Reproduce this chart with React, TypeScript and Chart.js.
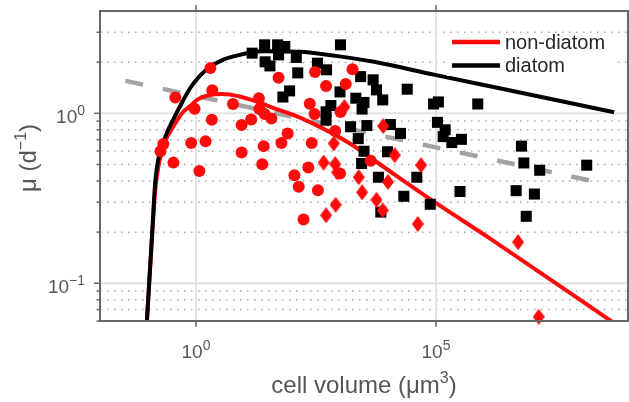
import React, { useEffect, useRef } from 'react';
import { Chart, registerables } from 'chart.js';

Chart.register(...registerables);

// ---------- data (log10 values) ----------
// x = log10 cell volume (µm³), y = log10 growth rate µ (d⁻¹)
const diatomLogVolume = [1.17, 1.43, 1.70, 1.85, 1.72, 2.09, 1.44, 1.54, 2.12, 2.53, 2.72, 3.01, 1.95, 1.81, 3.00, 3.43, 3.69, 3.76, 3.33, 3.50, 2.81, 2.71, 3.46, 2.71, 3.22, 3.56, 3.38, 3.50, 3.45, 4.05, 4.26, 3.99, 4.40, 4.95, 5.05, 5.87, 5.03, 5.19, 5.15, 5.33, 5.53, 6.78, 6.83, 7.16, 8.14, 6.67, 7.05, 6.88, 5.50, 3.80, 4.60, 4.33, 4.88, 3.85, 3.89];
const diatomLogRate = [0.354, 0.403, 0.403, 0.393, 0.344, 0.329, 0.303, 0.279, 0.238, 0.295, 0.256, 0.403, 0.132, 0.096, 0.126, 0.216, 0.197, 0.138, 0.089, 0.064, 0.046, 0.009, 0.025, -0.040, -0.079, -0.072, -0.149, -0.223, -0.295, -0.066, -0.118, -0.226, 0.142, 0.055, 0.067, 0.055, -0.053, -0.097, -0.137, -0.172, -0.153, -0.193, -0.292, -0.335, -0.305, -0.455, -0.475, -0.606, -0.460, -0.376, -0.376, -0.488, -0.535, -0.581, 0.079];

const nonDiatomCircleLogVolume = [0.30, -0.43, 0.34, -0.03, 0.77, 0.33, 1.31, 1.32, 1.43, 1.57, 1.15, 0.95, 1.72, 2.48, 2.71, 3.12, 3.26, 2.37, 2.47, 3.01, 2.90, 1.91, 1.78, -0.68, -0.74, -0.10, 0.20, 1.41, 0.95, 2.41, -0.47, 1.38, 0.07, 2.05, 2.34, 2.14, 2.54, 3.00, 2.24, 3.64];
const nonDiatomCircleLogRate = [0.266, 0.093, 0.136, 0.027, 0.055, -0.038, 0.089, 0.025, -0.004, -0.030, -0.037, -0.069, 0.210, 0.243, 0.161, 0.173, 0.260, 0.057, -0.004, 0.008, -0.104, -0.118, -0.175, -0.181, -0.223, -0.175, -0.165, -0.193, -0.231, -0.174, -0.290, -0.299, -0.339, -0.364, -0.319, -0.432, -0.453, -0.354, -0.624, -0.279];

const nonDiatomDiamondLogVolume = [3.09, 3.90, 2.87, 2.66, 2.90, 2.94, 3.39, 3.46, 3.76, 3.89, 4.14, 4.69, 4.00, 4.62, 6.71, 7.14, 2.91, 2.71];
const nonDiatomDiamondLogRate = [0.037, -0.075, -0.177, -0.290, -0.299, -0.347, -0.376, -0.465, -0.509, -0.571, -0.246, -0.305, -0.404, -0.651, -0.758, -1.197, -0.538, -0.600];

const diatomFitLogVolume = [-1.03, -0.91, -0.85, -0.79, -0.70, -0.60, -0.48, -0.33, -0.12, 0.08, 0.29, 0.56, 0.91, 1.39, 2.15, 2.91, 3.71, 4.98, 6.40, 8.71];
const diatomFitLogRate = [-1.255, -0.689, -0.406, -0.276, -0.187, -0.110, -0.040, 0.043, 0.149, 0.220, 0.273, 0.315, 0.344, 0.365, 0.362, 0.338, 0.303, 0.226, 0.143, 0.006];

const nonDiatomFitLogVolume = [-1.03, -0.91, -0.85, -0.79, -0.72, -0.64, -0.48, -0.27, -0.12, 0.02, 0.29, 0.56, 0.91, 1.22, 1.68, 2.09, 2.63, 3.19, 3.71, 4.95, 6.09, 8.71];
const nonDiatomFitLogRate = [-1.255, -0.701, -0.453, -0.323, -0.234, -0.164, -0.081, 0.008, 0.043, 0.079, 0.108, 0.114, 0.099, 0.073, 0.025, -0.016, -0.087, -0.175, -0.276, -0.518, -0.730, -1.234];

const allFitLogVolume = [-1.47, 8.36];
const allFitLogRate = [0.191, -0.404];

// ---------- axes ----------
const xRange = [1e-2, 1e9];
const yRange = [0.06, 4];
const xMajorExponents = [0, 5];
const yMajorExponents = [-1, 0];
const yMinorValues = [0.07, 0.08, 0.09, 0.2, 0.3, 0.4, 0.5, 0.6, 0.7, 0.8, 0.9, 2, 3];
const yMinorTickValues = [0.06, 0.07, 0.08, 0.09, 0.2, 0.3, 0.4, 0.5, 0.6, 0.7, 0.8, 0.9, 2, 3];
const legendLabels = ['non-diatom', 'diatom'];
const xTitle = [{ t: 'cell volume (μm' }, { t: '3', sup: true }, { t: ')' }];
const yTitle = [{ t: 'μ (d' }, { t: '−1', sup: true }, { t: ')' }];

// ---------- styles ----------
const FONT = '"Liberation Sans", Arial, Helvetica, sans-serif';
const TEXT = '#555555';
const FRAME = '#666666';
const RED = '#ff0a0a';
const BLACK = '#000000';
const GRAY = '#a3a3a3';

const toPoints = (lx: number[], ly: number[]) => lx.map((v, i) => ({ x: Math.pow(10, v), y: Math.pow(10, ly[i]) }));
const expText = (e: number) => (e < 0 ? '−' + Math.abs(e) : String(e));

function makeDiamond(color: string, w: number, h: number) {
  const c = document.createElement('canvas');
  c.width = w;
  c.height = h;
  const g = c.getContext('2d')!;
  g.fillStyle = color;
  g.beginPath();
  g.moveTo(w / 2, 0);
  g.lineTo(w, h / 2);
  g.lineTo(w / 2, h);
  g.lineTo(0, h / 2);
  g.closePath();
  g.fill();
  return c;
}

type Part = { t: string; sup?: boolean };
function drawRich(ctx: CanvasRenderingContext2D, parts: Part[], x: number, baseline: number, align: 'center' | 'right', size: number, supSize: number, raise: number) {
  const widths = parts.map((p) => {
    ctx.font = `${p.sup ? supSize : size}px ${FONT}`;
    return ctx.measureText(p.t).width;
  });
  const total = widths.reduce((a, b) => a + b, 0);
  let cur = align === 'center' ? x - total / 2 : x - total;
  ctx.textAlign = 'left';
  ctx.textBaseline = 'alphabetic';
  parts.forEach((p, i) => {
    ctx.font = `${p.sup ? supSize : size}px ${FONT}`;
    ctx.fillText(p.t, cur, p.sup ? baseline - raise : baseline);
    cur += widths[i];
  });
}

const decorPlugin = {
  id: 'decor',
  beforeDatasetsDraw(chart: any) {
    const { ctx, chartArea: a, scales } = chart;
    const x = scales.x;
    const y = scales.y;
    ctx.save();
    // minor dotted grid
    ctx.strokeStyle = '#ababab';
    ctx.lineWidth = 1.5;
    ctx.setLineDash([1.5, 5.5]);
    for (const v of yMinorValues) {
      const py = y.getPixelForValue(v);
      ctx.beginPath();
      ctx.moveTo(a.left, py);
      ctx.lineTo(a.right, py);
      ctx.stroke();
    }
    ctx.setLineDash([]);
    // major grid
    ctx.strokeStyle = '#e3e3e3';
    ctx.lineWidth = 2;
    for (const e of xMajorExponents) {
      const px = x.getPixelForValue(Math.pow(10, e));
      ctx.beginPath();
      ctx.moveTo(px, a.top);
      ctx.lineTo(px, a.bottom);
      ctx.stroke();
    }
    for (const e of yMajorExponents) {
      const py = y.getPixelForValue(Math.pow(10, e));
      ctx.beginPath();
      ctx.moveTo(a.left, py);
      ctx.lineTo(a.right, py);
      ctx.stroke();
    }
    ctx.restore();
  },
  afterDatasetsDraw(chart: any) {
    const { ctx, chartArea: a, scales } = chart;
    const x = scales.x;
    const y = scales.y;
    ctx.save();
    // legend (white box, then entries)
    ctx.fillStyle = '#ffffff';
    ctx.fillRect(447, 33, 168, 43);
    const legendSets = [chart.data.datasets[0], chart.data.datasets[1]];
    legendSets.forEach((ds: any, i: number) => {
      const ly = 42 + i * 23.5;
      ctx.strokeStyle = ds.borderColor;
      ctx.lineWidth = 4.5;
      ctx.beginPath();
      ctx.moveTo(452, ly);
      ctx.lineTo(500, ly);
      ctx.stroke();
      ctx.fillStyle = '#262626';
      ctx.font = `20px ${FONT}`;
      ctx.textAlign = 'left';
      ctx.textBaseline = 'alphabetic';
      ctx.fillText(legendLabels[i], 505, ly + 6.5);
    });

    // frame
    ctx.strokeStyle = FRAME;
    ctx.lineWidth = 2;
    ctx.strokeRect(a.left, a.top, a.right - a.left, a.bottom - a.top);
    // ticks
    ctx.lineWidth = 1.5;
    for (const v of yMinorTickValues) {
      const py = y.getPixelForValue(v);
      ctx.beginPath();
      ctx.moveTo(a.left, py);
      ctx.lineTo(a.left - 3.5, py);
      ctx.stroke();
    }
    for (const e of yMajorExponents) {
      const py = y.getPixelForValue(Math.pow(10, e));
      ctx.beginPath();
      ctx.moveTo(a.left, py);
      ctx.lineTo(a.left - 6, py);
      ctx.stroke();
    }
    for (const e of xMajorExponents) {
      const px = x.getPixelForValue(Math.pow(10, e));
      ctx.beginPath();
      ctx.moveTo(px, a.bottom);
      ctx.lineTo(px, a.bottom + 6);
      ctx.moveTo(px, a.top);
      ctx.lineTo(px, a.top - 6);
      ctx.stroke();
    }
    // tick labels
    ctx.fillStyle = TEXT;
    for (const e of xMajorExponents) {
      const px = x.getPixelForValue(Math.pow(10, e));
      drawRich(ctx, [{ t: '10' }, { t: expText(e), sup: true }], px, 358, 'center', 19, 14, 8);
    }
    for (const e of yMajorExponents) {
      const py = y.getPixelForValue(Math.pow(10, e));
      drawRich(ctx, [{ t: '10' }, { t: expText(e), sup: true }], 85, py + 10, 'right', 19, 14, 8);
    }
    // axis titles
    drawRich(ctx, xTitle, (a.left + a.right) / 2, 393, 'center', 24, 16, 10);
    ctx.translate(36, 158);
    ctx.rotate(-Math.PI / 2);
    drawRich(ctx, yTitle, 0, 0, 'center', 24, 16, 10);
    ctx.restore();
  },
};

export default function App() {
  const ref = useRef<HTMLCanvasElement>(null);
  useEffect(() => {
    const diamond = makeDiamond(RED, 12, 16);
    const chart = new Chart(ref.current!, {
      type: 'scatter',
      data: {
        datasets: [
          {
            label: legendLabels[0],
            data: toPoints(nonDiatomFitLogVolume, nonDiatomFitLogRate),
            showLine: true,
            borderColor: RED,
            backgroundColor: RED,
            borderWidth: 4,
            pointRadius: 0,
            cubicInterpolationMode: 'monotone',
            order: 3,
          },
          {
            label: legendLabels[1],
            data: toPoints(diatomFitLogVolume, diatomFitLogRate),
            showLine: true,
            borderColor: BLACK,
            backgroundColor: BLACK,
            borderWidth: 4,
            pointRadius: 0,
            cubicInterpolationMode: 'monotone',
            order: 2,
          },
          {
            label: 'all',
            data: toPoints(allFitLogVolume, allFitLogRate),
            showLine: true,
            borderColor: GRAY,
            borderWidth: 4.5,
            borderDash: [18, 20],
            pointRadius: 0,
            order: 4,
          },
          {
            label: 'diatom data',
            data: toPoints(diatomLogVolume, diatomLogRate),
            pointStyle: 'rect',
            pointRadius: 7.8,
            pointBorderWidth: 0,
            backgroundColor: BLACK,
            borderColor: BLACK,
            clip: false as any,
            order: 1,
          },
          {
            label: 'non-diatom data (circles)',
            data: toPoints(nonDiatomCircleLogVolume, nonDiatomCircleLogRate),
            pointStyle: 'circle',
            pointRadius: 6,
            pointBorderWidth: 0,
            backgroundColor: RED,
            borderColor: RED,
            clip: false as any,
            order: 0,
          },
          {
            label: 'non-diatom data (diamonds)',
            data: toPoints(nonDiatomDiamondLogVolume, nonDiatomDiamondLogRate),
            pointStyle: diamond as any,
            pointRadius: 8,
            pointBorderWidth: 0,
            backgroundColor: RED,
            borderColor: RED,
            clip: false as any,
            order: 0,
          },
        ],
      },
      options: {
        responsive: false,
        animation: false,
        devicePixelRatio: 1,
        events: [],
        layout: { autoPadding: false, padding: { left: 100, right: 1, top: 11, bottom: 81 } },
        scales: {
          x: { type: 'logarithmic', min: xRange[0], max: xRange[1], display: false },
          y: { type: 'logarithmic', min: yRange[0], max: yRange[1], display: false },
        },
        plugins: { legend: { display: false }, tooltip: { enabled: false } },
      },
      plugins: [decorPlugin],
    } as any);
    return () => chart.destroy();
  }, []);
  return (
    <div style={{ position: 'absolute', left: 0, top: 0, width: 629, height: 402, background: '#fff' }}>
      <canvas ref={ref} width={629} height={402} style={{ display: 'block' }} />
    </div>
  );
}
